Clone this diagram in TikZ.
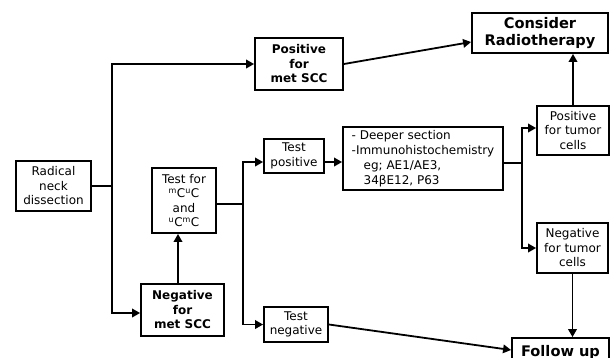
\documentclass[tikz,border=0pt]{standalone}
\usepackage{fontspec}
\setmainfont{DejaVu Sans}
\usetikzlibrary{arrows.meta,calc}
\begin{document}
\begin{tikzpicture}[x=1pt,y=-1pt,
  box/.style={draw,line width=1.8pt,inner sep=0pt,align=center,
    font=\fontsize{12}{14.5}\selectfont},
  bbox/.style={box,font=\fontsize{12}{14.5}\selectfont\bfseries},
  big/.style={box,font=\fontsize{14.6}{17}\selectfont\bfseries},
  ln/.style={line width=1.8pt},
  arr/.style={ln,-{Triangle[length=8pt,width=8.5pt]}}]
\clip (0,0) rectangle (614,357);

% boxes
\node[box,minimum width=75,minimum height=50] (rnd) at (53.5,186) {Radical\\neck\\dissection};
\node[bbox,minimum width=88,minimum height=52] (pos) at (299,64) {Positive\\for\\met SCC};
\node[bbox,minimum width=83,minimum height=52] (neg) at (182.5,310) {Negative\\for\\met SCC};
\node[box,minimum width=64,minimum height=65] (testfor) at (184,200.5)
  {Test for\\\textsuperscript{m}C\textsuperscript{u}C\\and\\\textsuperscript{u}C\textsuperscript{m}C};
\node[box,minimum width=60,minimum height=34] (tpos) at (294,156) {Test\\positive};
\node[box,minimum width=64,minimum height=35] (tneg) at (296,324.5) {Test\\negative};
\node[box,align=left,minimum width=160,minimum height=63,
  font=\fontsize{12}{15}\selectfont] (deep) at (423,158.5)
  {- Deeper section\\-Immunohistochemistry\\\hspace*{12pt}eg; AE1/AE3,\\\hspace*{12pt}34βE12, P63};
\node[box,minimum width=72,minimum height=49] (ptum) at (573,130.5) {Positive\\for tumor\\cells};
\node[box,minimum width=71,minimum height=50] (ntum) at (572.5,248) {Negative\\for tumor\\cells};
\node[big,minimum width=136,minimum height=40] (cons) at (540,33) {Consider\\Radiotherapy};
\node[big,minimum width=97,minimum height=28] (fol) at (560.5,352) {Follow up};

% junction points of the split connectors
\coordinate (j1) at (112,186);
\coordinate (j2) at (243,204);
\coordinate (j3) at (522,163);

% radical neck dissection splits into positive / negative
\draw[ln] (rnd.east) -- (j1);
\draw[arr] (j1) |- (pos.west);
\draw[arr] (j1) |- ($(neg.west)+(0,3)$);

% negative for met SCC goes on to testing
\draw[arr] ($(neg.north)+(-4.5,0)$) -- ($(testfor.south)+(-6,0)$);
\draw[ln] ($(testfor.east)+(0,3.5)$) -- (j2);
\draw[arr] (j2) |- ($(tpos.west)+(0,6)$);
\draw[arr] (j2) |- (tneg.west);

% test positive work-up
\draw[arr] ($(tpos.east)+(0,6)$) -- ($(deep.west)+(0,3.5)$);
\draw[ln] ($(deep.east)+(0,4.5)$) -- (j3);
\draw[arr] (j3) |- ($(ptum.west)+(0,-2.5)$);
\draw[arr] (j3) |- (ntum.west);

% outcomes
\draw[arr] (pos.east) -- ($(cons.west)+(0,9)$);
\draw[arr] (ptum.north) -- (cons.south -| ptum.north);
\draw[arr] (ntum.south) -- (fol.north -| ntum.south);
\draw[arr] (tneg.east) -- ($(fol.west)+(0,-2)$);
\end{tikzpicture}
\end{document}
